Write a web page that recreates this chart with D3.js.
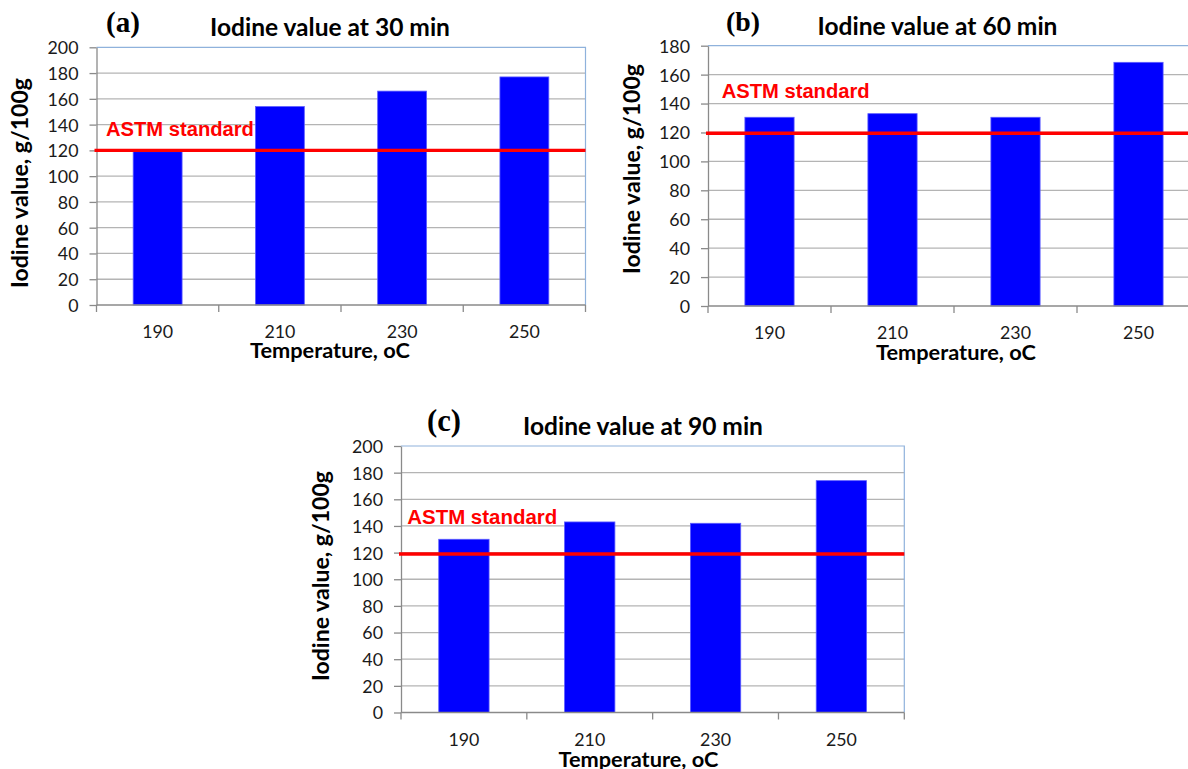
<!DOCTYPE html>
<html>
<head>
<meta charset="utf-8">
<script src="https://cdn.jsdelivr.net/npm/d3@7"></script>
<style>
  html, body { margin: 0; padding: 0; background: #ffffff; }
  svg { display: block; }
</style>
</head>
<body>
<svg id="fig" width="1188" height="769"></svg>
<script>
// Reaction temperatures (°C) shared by all three panels
const temperatures = ["190", "210", "230", "250"];

// Iodine value (g/100g) at each reaction time
const iodine30 = [119, 154, 166, 177];
const iodine60 = [130.5, 133, 130.5, 168.5];
const iodine90 = [130, 143, 142, 174];

// Level of the "ASTM standard" reference line drawn in each panel
const astmLevel = [120, 119.5, 119];

// Y axis ticks per panel
const yTicks30 = [0, 20, 40, 60, 80, 100, 120, 140, 160, 180, 200];
const yTicks60 = [0, 20, 40, 60, 80, 100, 120, 140, 160, 180];
const yTicks90 = [0, 20, 40, 60, 80, 100, 120, 140, 160, 180, 200];

const panelLetters = ["(a)", "(b)", "(c)"];
const panelTitles = ["Iodine value at 30 min", "Iodine value at 60 min", "Iodine value at 90 min"];
const xTitle = "Temperature, oC";
const yTitle = "Iodine value, g/100g";
const astmLabel = "ASTM standard";

// Page layout of the three panels
const layout = [
  { values: iodine30, ticks: yTicks30, astm: astmLevel[0],
    x0: 96.5, x1: 585.5, top: 47.3, bottom: 305,
    letterX: 106, letterY: 32, titleX: 330, titleY: 36,
    yLabX: 28, yLabY: 183, xTitleX: 330, xTitleDy: 53,
    astmX: 106, astmY: 135.7, astmW: 148 },
  { values: iodine60, ticks: yTicks60, astm: astmLevel[1],
    x0: 708, x1: 1200, top: 45.7, bottom: 306,
    letterX: 726, letterY: 31, titleX: 937.5, titleY: 35,
    yLabX: 640, yLabY: 169, xTitleX: 956, xTitleDy: 54,
    astmX: 721.7, astmY: 97.7, astmW: 148 },
  { values: iodine90, ticks: yTicks90, astm: astmLevel[2],
    x0: 401, x1: 904.3, top: 446, bottom: 712.5,
    letterX: 427, letterY: 431, titleX: 643, titleY: 435,
    yLabX: 329, yLabY: 576, xTitleX: 638.5, xTitleDy: 54,
    astmX: 407.3, astmY: 524, astmW: 150 }
];

const svg = d3.select("#fig");
const sans = "Lato, 'Open Sans', sans-serif";
const serif = "'Liberation Serif', 'Times New Roman', serif";

// Scale a text's font size so its drawn width equals the given width
function fitWidth(sel, width) {
  const w = sel.node().getComputedTextLength();
  const fs = parseFloat(sel.attr("font-size"));
  if (w > 0) sel.attr("font-size", (fs * width / w).toFixed(2));
  return sel;
}

// Font size for tick numbers: three digits span about 31px
const probe = svg.append("text").attr("font-family", sans).attr("font-size", 17).text("190");
const tickFont = 17 * 31 / probe.node().getComputedTextLength();
probe.remove();

layout.forEach((p, i) => {
  const g = svg.append("g");
  const y = d3.scaleLinear()
    .domain([0, d3.max(p.ticks)])
    .range([p.bottom, p.top]);
  const x = d3.scaleBand()
    .domain(temperatures)
    .range([p.x0, p.x1])
    .paddingInner(0.6)
    .paddingOuter(0.3);
  const edges = d3.scaleLinear().domain([0, temperatures.length]).range([p.x0, p.x1]);

  // Horizontal gridlines
  g.append("g").selectAll("line")
    .data(p.ticks.filter(t => t > 0 && t < d3.max(p.ticks)))
    .join("line")
    .attr("x1", p.x0).attr("x2", p.x1)
    .attr("y1", d => y(d)).attr("y2", d => y(d))
    .attr("stroke", "#b4b4b4").attr("stroke-width", 1.3);

  // Plot area border (top and right)
  g.append("path")
    .attr("d", `M${p.x0},${p.top}H${p.x1}V${p.bottom}`)
    .attr("fill", "none").attr("stroke", "#8fb2dc").attr("stroke-width", 1.2);

  // Bars
  g.append("g").selectAll("rect")
    .data(p.values)
    .join("rect")
    .attr("x", (d, k) => x(temperatures[k]))
    .attr("width", x.bandwidth())
    .attr("y", d => y(d))
    .attr("height", d => y(0) - y(d))
    .attr("fill", "#0000ff")
    .attr("stroke", "#5c5cff").attr("stroke-width", 0.8);

  // Y axis
  const yAxis = g.append("g")
    .attr("transform", `translate(${p.x0},0)`)
    .call(d3.axisLeft(y).tickValues(p.ticks).tickSize(7).tickPadding(11).tickSizeOuter(0));
  yAxis.select(".domain").attr("stroke", "#8a8a8a").attr("stroke-width", 1.3);
  yAxis.selectAll(".tick line").attr("stroke", "#8a8a8a").attr("stroke-width", 1.3);
  yAxis.selectAll(".tick text")
    .attr("font-family", sans).attr("font-size", tickFont).attr("fill", "#1a1a1a")
    .attr("dy", "0.36em");

  // X axis: baseline, category boundary ticks, labels
  g.append("line")
    .attr("x1", p.x0).attr("x2", p.x1)
    .attr("y1", p.bottom).attr("y2", p.bottom)
    .attr("stroke", "#8a8a8a").attr("stroke-width", 1.3);
  g.append("g").selectAll("line")
    .data(d3.range(temperatures.length + 1))
    .join("line")
    .attr("x1", d => edges(d)).attr("x2", d => edges(d))
    .attr("y1", p.bottom).attr("y2", p.bottom + 7)
    .attr("stroke", "#8a8a8a").attr("stroke-width", 1.3);
  g.append("g").selectAll("text")
    .data(temperatures)
    .join("text")
    .attr("x", d => x(d) + x.bandwidth() / 2)
    .attr("y", p.bottom + 33)
    .attr("text-anchor", "middle")
    .attr("font-family", sans).attr("font-size", tickFont).attr("fill", "#1a1a1a")
    .text(d => d);

  // ASTM standard reference line and its label
  g.append("line")
    .attr("x1", p.x0 - 2).attr("x2", p.x1)
    .attr("y1", y(p.astm)).attr("y2", y(p.astm))
    .attr("stroke", "#ff0000").attr("stroke-width", 3.4);
  fitWidth(g.append("text")
    .attr("x", p.astmX).attr("y", p.astmY)
    .attr("font-family", "'Liberation Sans', Arial, sans-serif")
    .attr("font-weight", "bold").attr("font-size", 20)
    .attr("fill", "#ff0000")
    .text(astmLabel), p.astmW);

  // Titles
  fitWidth(g.append("text")
    .attr("x", p.titleX).attr("y", p.titleY)
    .attr("text-anchor", "middle")
    .attr("font-family", sans).attr("font-weight", "bold").attr("font-size", 22)
    .attr("fill", "#000")
    .text(panelTitles[i]), 240);
  fitWidth(g.append("text")
    .attr("x", p.letterX).attr("y", p.letterY)
    .attr("font-family", serif).attr("font-weight", "bold").attr("font-size", 26)
    .attr("fill", "#000")
    .text(panelLetters[i]), 34);

  // Axis titles
  fitWidth(g.append("text")
    .attr("x", p.xTitleX).attr("y", p.bottom + p.xTitleDy)
    .attr("text-anchor", "middle")
    .attr("font-family", sans).attr("font-weight", "bold").attr("font-size", 19)
    .attr("fill", "#000")
    .text(xTitle), 160);
  fitWidth(g.append("text")
    .attr("transform", `translate(${p.yLabX},${p.yLabY}) rotate(-90)`)
    .attr("text-anchor", "middle")
    .attr("font-family", sans).attr("font-weight", "bold").attr("font-size", 19)
    .attr("fill", "#000")
    .text(yTitle), 210);
});
</script>
</body>
</html>
